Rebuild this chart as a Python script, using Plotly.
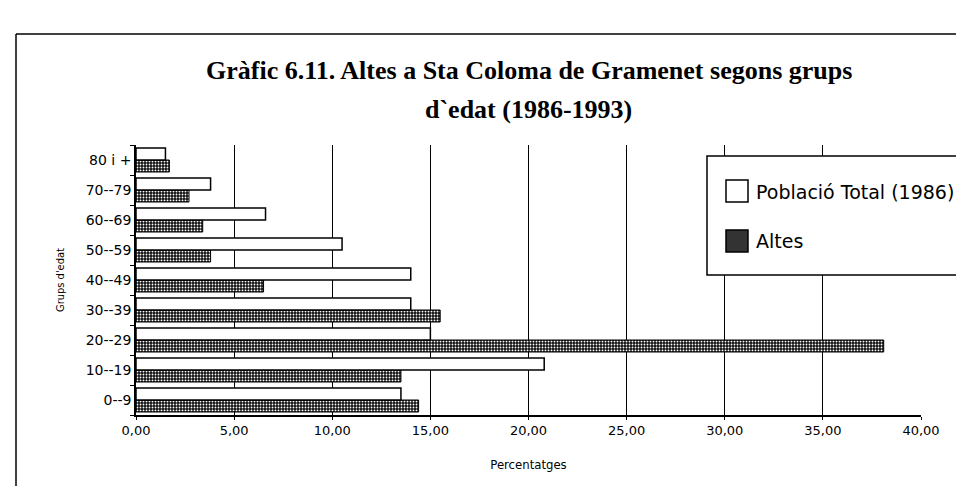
import plotly.graph_objects as go

# Age groups, bottom to top
grups = ["0--9", "10--19", "20--29", "30--39", "40--49", "50--59", "60--69", "70--79", "80 i +"]
poblacio_1986 = [13.5, 20.8, 15.0, 14.0, 14.0, 10.5, 6.6, 3.8, 1.5]
altes = [14.4, 13.5, 38.1, 15.5, 6.5, 3.8, 3.4, 2.7, 1.7]

W, H = 964, 486
L, R, T, B = 128, 51, 137, 79
PW, PH = W - L - R, H - T - B


def px(x):
    return (x - L) / PW


def py(y):
    return (H - B - y) / PH


fig = go.Figure()

# Altes first so that it sits below in each group (horizontal bars)
fig.add_trace(go.Bar(
    y=grups, x=altes, orientation="h", name="Altes", showlegend=False,
    marker=dict(
        color="#111111",
        line=dict(color="black", width=1),
        pattern=dict(shape=".", fillmode="replace", bgcolor="#111111",
                     fgcolor="white", size=3, solidity=0.3),
    ),
))
fig.add_trace(go.Bar(
    y=grups, x=poblacio_1986, orientation="h", name="Població Total (1986)",
    showlegend=False,
    marker=dict(color="white", line=dict(color="black", width=1.5)),
))

title_font = dict(family="Liberation Serif", size=26, color="black")
small_font = dict(family="DejaVu Sans Condensed", color="black")

fig.update_layout(
    width=W, height=H,
    margin=dict(l=L, r=R, t=T, b=B, autoexpand=False),
    paper_bgcolor="white", plot_bgcolor="white",
    barmode="group", bargap=0.2, bargroupgap=0,
    separators=",.",
    xaxis=dict(
        range=[0, 40], dtick=5, tickformat=".2f",
        showgrid=True, gridcolor="black", gridwidth=1, zeroline=False,
        showline=True, linecolor="black", linewidth=1.5,
        ticks="outside", ticklen=3, tickcolor="black",
        tickfont=dict(family="DejaVu Sans", size=13, color="black"),
        title=dict(text="Percentatges", standoff=23, font=dict(small_font, size=13)),
    ),
    yaxis=dict(
        type="category", categoryorder="array", categoryarray=grups,
        showgrid=False, showline=True, linecolor="black", linewidth=1.5,
        ticks="outside", ticklen=4, tickcolor="black", tickson="boundaries",
        tickfont=dict(family="DejaVu Sans", size=14, color="black"),
        title=dict(text="Grups d'edat", standoff=19, font=dict(small_font, size=11)),
    ),
)

# Title (two lines, centred over the plot area)
fig.add_annotation(text="<b>Gràfic 6.11. Altes a Sta Coloma de Gramenet segons grups</b>",
                   xref="paper", yref="paper", x=0.5, y=py(62),
                   showarrow=False, font=title_font, xanchor="center", yanchor="middle")
fig.add_annotation(text="<b>d`edat (1986-1993)</b>",
                   xref="paper", yref="paper", x=0.5, y=py(101),
                   showarrow=False, font=title_font, xanchor="center", yanchor="middle")

# Legend box drawn by hand (runs off the right edge like the scan)
fig.add_shape(type="rect", xref="paper", yref="paper",
              x0=px(699), x1=px(1010), y0=py(267), y1=py(148),
              line=dict(color="black", width=1.5), fillcolor="white", layer="above")
fig.add_shape(type="rect", xref="paper", yref="paper",
              x0=px(718), x1=px(740), y0=py(194), y1=py(172),
              line=dict(color="black", width=1.5), fillcolor="white", layer="above")
fig.add_shape(type="rect", xref="paper", yref="paper",
              x0=px(718), x1=px(740), y0=py(244), y1=py(222),
              line=dict(color="black", width=1.5), fillcolor="#333333", layer="above")
legend_font = dict(family="DejaVu Sans", size=19, color="black")
fig.add_annotation(text="Població Total (1986)", xref="paper", yref="paper",
                   x=px(746), y=py(184), showarrow=False, font=legend_font,
                   xanchor="left", yanchor="middle")
fig.add_annotation(text="Altes", xref="paper", yref="paper",
                   x=px(746), y=py(233), showarrow=False, font=legend_font,
                   xanchor="left", yanchor="middle")

# Outer frame of the scanned figure
fig.add_shape(type="line", xref="paper", yref="paper",
              x0=px(8), x1=px(1010), y0=py(26), y1=py(26),
              line=dict(color="black", width=1.5))
fig.add_shape(type="line", xref="paper", yref="paper",
              x0=px(8), x1=px(8), y0=py(26), y1=py(500),
              line=dict(color="black", width=1.5))

fig.write_html("out.html")
